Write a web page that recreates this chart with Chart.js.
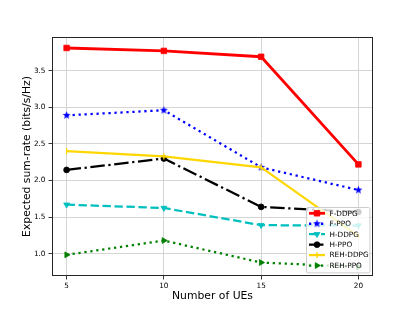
<!DOCTYPE html>
<html>
<head>
<meta charset="utf-8">
<script src="https://cdn.jsdelivr.net/npm/chart.js@4.4.1/dist/chart.umd.min.js"></script>
<style>
  html, body { margin: 0; padding: 0; background: #ffffff; }
  #c { display: block; }
</style>
</head>
<body>
<canvas id="c" width="415" height="311"></canvas>
<script>
// ---- data ----
const categories = [5, 10, 15, 20];
const seriesNames = ['F-DDPG', 'F-PPO', 'H-DDPG', 'H-PPO', 'REH-DDPG', 'REH-PPO'];
const fDDPG   = [3.81, 3.77, 3.69, 2.22];
const fPPO    = [2.89, 2.96, 2.18, 1.87];
const hDDPG   = [1.67, 1.625, 1.39, 1.385];
const hPPO    = [2.145, 2.30, 1.64, 1.57];
const rehDDPG = [2.40, 2.33, 2.18, 1.24];
const rehPPO  = [0.985, 1.18, 0.88, 0.82];
const xTicks = [5, 10, 15, 20];
const yTicks = [1.0, 1.5, 2.0, 2.5, 3.0, 3.5];
const xLabel = 'Number of UEs';
const yLabel = 'Expected sum-rate (bits/s/Hz)';

// ---- styles ----
function makeStar(color, R) {
  const s = Math.ceil(R * 2 + 2);
  const cv = document.createElement('canvas');
  cv.width = s; cv.height = s;
  const g = cv.getContext('2d');
  g.fillStyle = color;
  g.beginPath();
  for (let i = 0; i < 10; i++) {
    const r = (i % 2 === 0) ? R : R * 0.42;
    const a = -Math.PI / 2 + i * Math.PI / 5;
    const px = s / 2 + r * Math.cos(a), py = s / 2 + r * Math.sin(a);
    if (i === 0) g.moveTo(px, py); else g.lineTo(px, py);
  }
  g.closePath();
  g.fill();
  return cv;
}
const starImg = makeStar('#0000ff', 4.2);

const LW = 2.26;
const styles = [
  { color: '#ff0000', lw: 2.8, dash: [], point: 'rect', r: 3.9, rot: 0 },
  { color: '#0000ff', lw: LW, dash: [LW * 1, LW * 1.65], point: starImg, r: 4, rot: 0 },
  { color: '#00bfbf', lw: LW, dash: [LW * 3.7, LW * 1.6], point: 'triangle', r: 3.4, rot: 180 },
  { color: '#000000', lw: LW, dash: [LW * 6.4, LW * 1.6, LW * 1, LW * 1.6], point: 'circle', r: 2.9, rot: 0 },
  { color: '#ffd700', lw: LW, dash: [], point: 'line', r: 3.2, rot: 90 },
  { color: '#008000', lw: LW, dash: [LW * 1, LW * 1.65], point: 'triangle', r: 3.4, rot: 90 }
];
const seriesValues = [fDDPG, fPPO, hDDPG, hPPO, rehDDPG, rehPPO];

const datasets = seriesValues.map((vals, i) => ({
  label: seriesNames[i],
  data: categories.map((c, j) => ({ x: c, y: vals[j] })),
  borderColor: styles[i].color,
  backgroundColor: styles[i].color,
  borderWidth: styles[i].lw,
  borderDash: styles[i].dash,
  borderCapStyle: 'butt',
  borderJoinStyle: 'round',
  pointStyle: styles[i].point,
  pointRadius: styles[i].r,
  pointRotation: styles[i].rot,
  pointBorderWidth: styles[i].point === 'line' ? 1.3 : 0.8,
  pointBorderColor: styles[i].color,
  pointBackgroundColor: styles[i].color,
  pointHoverRadius: styles[i].r,
  tension: 0,
  fill: false,
  order: seriesValues.length - i
}));

// ---- custom marker for legend ----
function drawMarker(ctx, st, x, y) {
  ctx.save();
  ctx.setLineDash([]);
  ctx.fillStyle = st.color;
  ctx.strokeStyle = st.color;
  ctx.lineWidth = st.point === 'line' ? 1.3 : 0.8;
  const r = st.r;
  const rad = st.rot * Math.PI / 180;
  if (st.point instanceof HTMLCanvasElement) {
    ctx.drawImage(st.point, x - st.point.width / 2, y - st.point.height / 2);
  } else if (st.point === 'rect') {
    const s = r * Math.SQRT1_2;
    ctx.beginPath(); ctx.rect(x - s, y - s, 2 * s, 2 * s); ctx.fill(); ctx.stroke();
  } else if (st.point === 'circle') {
    ctx.beginPath(); ctx.arc(x, y, r, 0, Math.PI * 2); ctx.fill(); ctx.stroke();
  } else if (st.point === 'triangle') {
    ctx.beginPath();
    let a = rad;
    ctx.moveTo(x + Math.sin(a) * r, y - Math.cos(a) * r);
    a += 2 * Math.PI / 3;
    ctx.lineTo(x + Math.sin(a) * r, y - Math.cos(a) * r);
    a += 2 * Math.PI / 3;
    ctx.lineTo(x + Math.sin(a) * r, y - Math.cos(a) * r);
    ctx.closePath(); ctx.fill(); ctx.stroke();
  } else if (st.point === 'line') {
    const xo = Math.cos(rad) * r, yo = Math.sin(rad) * r;
    ctx.beginPath(); ctx.moveTo(x - xo, y - yo); ctx.lineTo(x + xo, y + yo); ctx.stroke();
  }
  ctx.restore();
}

const framePlugin = {
  id: 'frameAndLegend',
  afterDatasetsDraw(chart) {
    const { ctx, chartArea: a } = chart;
    ctx.save();
    ctx.strokeStyle = '#262626';
    ctx.lineWidth = 1;
    ctx.setLineDash([]);
    ctx.strokeRect(Math.round(a.left) + 0.5, Math.round(a.top) + 0.5,
                   Math.round(a.right - a.left) - 1, Math.round(a.bottom - a.top) - 1);
    ctx.restore();

    // legend (lower right)
    const fs = 7.3;
    const bx1 = a.right - 3.6, by1 = a.bottom - 3.6;
    const bx0 = 306, by0 = 207;
    ctx.save();
    ctx.beginPath();
    if (ctx.roundRect) ctx.roundRect(bx0 + 0.5, by0 + 0.5, bx1 - bx0, by1 - by0, 1.5);
    else ctx.rect(bx0 + 0.5, by0 + 0.5, bx1 - bx0, by1 - by0);
    ctx.fillStyle = 'rgba(255,255,255,0.8)';
    ctx.fill();
    ctx.strokeStyle = '#cccccc';
    ctx.lineWidth = 1;
    ctx.stroke();
    ctx.font = fs + 'px "DejaVu Sans"';
    ctx.textBaseline = 'middle';
    ctx.textAlign = 'left';
    const y0 = 213.3, dy = 10.45;
    const hx0 = 309, hx1 = 325;
    styles.forEach((st, i) => {
      const y = y0 + i * dy;
      ctx.save();
      ctx.strokeStyle = st.color;
      ctx.lineWidth = st.lw;
      ctx.setLineDash(st.dash);
      ctx.lineCap = 'butt';
      ctx.beginPath(); ctx.moveTo(hx0, y); ctx.lineTo(hx1, y); ctx.stroke();
      ctx.restore();
      drawMarker(ctx, st, (hx0 + hx1) / 2, y);
      ctx.fillStyle = '#000';
      ctx.fillText(seriesNames[i], 329.5, y + 0.5);
    });
    ctx.restore();
  }
};

const tickFont = { family: 'DejaVu Sans', size: 7.3 };
const titleFont = { family: 'DejaVu Sans', size: 10.8 };

new Chart(document.getElementById('c'), {
  type: 'line',
  data: { datasets },
  options: {
    responsive: false,
    devicePixelRatio: 1,
    animation: false,
    events: [],
    layout: { padding: { left: 0, right: 42, top: 37, bottom: 0 } },
    plugins: { legend: { display: false }, tooltip: { enabled: false } },
    scales: {
      x: {
        type: 'linear',
        min: 4.25, max: 20.75,
        afterBuildTicks: (s) => { s.ticks = xTicks.map(v => ({ value: v })); },
        afterFit: (s) => { s.height = 35; },
        ticks: { font: tickFont, color: '#000', padding: 2.5, maxRotation: 0,
                 callback: (v) => String(v) },
        grid: { color: '#d0d0d0', lineWidth: 0.9, tickLength: 3.5, tickColor: '#222', tickWidth: 0.9 },
        border: { display: false },
        title: { display: true, text: xLabel, font: titleFont, color: '#000', padding: { top: 8.5, bottom: 8.5 } }
      },
      y: {
        type: 'linear',
        min: 0.696, max: 3.96,
        afterBuildTicks: (s) => { s.ticks = yTicks.map(v => ({ value: v })); },
        afterFit: (s) => { s.width = 52; },
        ticks: { font: tickFont, color: '#000', padding: 3,
                 callback: (v) => Number(v).toFixed(1) },
        grid: { color: '#d0d0d0', lineWidth: 0.9, tickLength: 3.5, tickColor: '#222', tickWidth: 0.9 },
        border: { display: false },
        title: { display: true, text: yLabel, font: titleFont, color: '#000', padding: { top: 20.5, bottom: 20.5 } }
      }
    }
  },
  plugins: [framePlugin]
});
</script>
</body>
</html>
